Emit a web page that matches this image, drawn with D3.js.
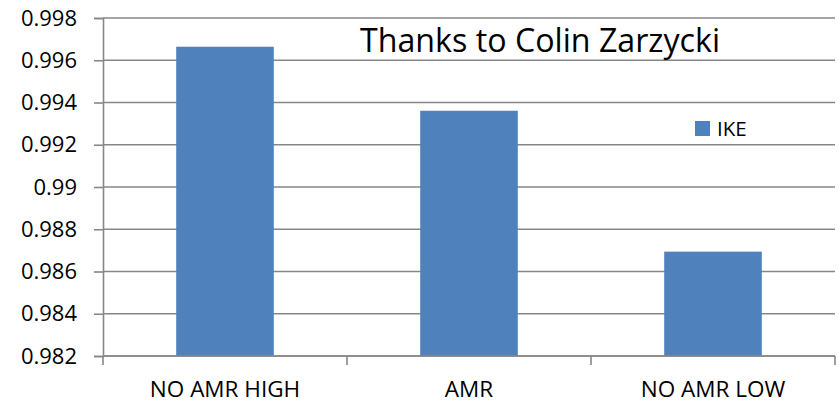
<!DOCTYPE html>
<html>
<head>
<meta charset="utf-8">
<script src="https://cdn.jsdelivr.net/npm/d3@7"></script>
<style>
  body { margin: 0; background: #fff; }
  svg { display: block; font-family: "Open Sans", sans-serif; }
</style>
</head>
<body>
<svg id="chart"></svg>
<script>
// data
const categories = ["NO AMR HIGH", "AMR", "NO AMR LOW"];
const ikeValues = [0.99664, 0.99361, 0.98694];
const tickValues = [0.982, 0.984, 0.986, 0.988, 0.99, 0.992, 0.994, 0.996, 0.998];
const tickLabels = ["0.982", "0.984", "0.986", "0.988", "0.99", "0.992", "0.994", "0.996", "0.998"];
const seriesName = "IKE";
const titleText = "Thanks to Colin Zarzycki";

const width = 839;
const height = 403;
const plot = { left: 103, right: 835, top: 18, bottom: 356 };
const barColor = "#4f81bd";
const gridColor = "#878787";

const svg = d3.select("#chart").attr("width", width).attr("height", height);

const x = d3
  .scaleBand()
  .domain(categories)
  .range([plot.left, plot.right])
  .paddingInner(0.6)
  .paddingOuter(0.3);

const y = d3
  .scaleLinear()
  .domain([tickValues[0], tickValues[tickValues.length - 1]])
  .range([plot.bottom, plot.top]);

// horizontal gridlines
svg
  .append("g")
  .selectAll("line")
  .data(tickValues)
  .join("line")
  .attr("x1", plot.left)
  .attr("x2", plot.right)
  .attr("y1", (d) => y(d))
  .attr("y2", (d) => y(d))
  .attr("stroke", gridColor)
  .attr("stroke-width", 1.6);

// y axis
const yAxis = svg
  .append("g")
  .attr("transform", `translate(${plot.left},0)`)
  .call(
    d3
      .axisLeft(y)
      .tickValues(tickValues)
      .tickFormat((d, i) => tickLabels[i])
      .tickSize(9)
      .tickPadding(17)
  );
yAxis.select(".domain").attr("stroke", gridColor).attr("stroke-width", 1.6);
yAxis.selectAll(".tick line").attr("stroke", gridColor).attr("stroke-width", 1.6);
yAxis
  .selectAll(".tick text")
  .attr("fill", "#000")
  .style("font-size", "22px")
  .style("font-family", '"Open Sans", sans-serif');

// bars
svg
  .append("g")
  .selectAll("rect")
  .data(ikeValues)
  .join("rect")
  .attr("x", (d, i) => x(categories[i]))
  .attr("y", (d) => y(d))
  .attr("width", x.bandwidth())
  .attr("height", (d) => plot.bottom - y(d))
  .attr("fill", barColor);

// x axis: baseline plus tick marks between categories
const step = x.step();
const boundaries = [x(categories[0]) - step * 0.3].concat(
  categories.map((c) => x(c) - step * 0.3 + step)
);
const xAxis = svg.append("g");
xAxis
  .append("line")
  .attr("x1", plot.left)
  .attr("x2", plot.right)
  .attr("y1", plot.bottom)
  .attr("y2", plot.bottom)
  .attr("stroke", gridColor)
  .attr("stroke-width", 1.6);
xAxis
  .selectAll(".xtick")
  .data(boundaries)
  .join("line")
  .attr("class", "xtick")
  .attr("x1", (d) => d)
  .attr("x2", (d) => d)
  .attr("y1", plot.bottom)
  .attr("y2", plot.bottom + 9)
  .attr("stroke", gridColor)
  .attr("stroke-width", 1.6);
xAxis
  .selectAll(".xlabel")
  .data(categories)
  .join("text")
  .attr("class", "xlabel")
  .attr("x", (d) => x(d) + x.bandwidth() / 2)
  .attr("y", 396.5)
  .attr("text-anchor", "middle")
  .style("font-size", "22.5px")
  .text((d) => d);

// title inside the plot
svg
  .append("text")
  .attr("x", 360)
  .attr("y", 52)
  .style("font-size", "32.2px")
  .text(titleText);

// legend
const legend = svg.append("g").attr("transform", "translate(695,121)");
legend.append("rect").attr("width", 15).attr("height", 15).attr("fill", barColor);
legend
  .append("text")
  .attr("x", 22)
  .attr("y", 15)
  .style("font-size", "20.5px")
  .text(seriesName);
</script>
</body>
</html>
